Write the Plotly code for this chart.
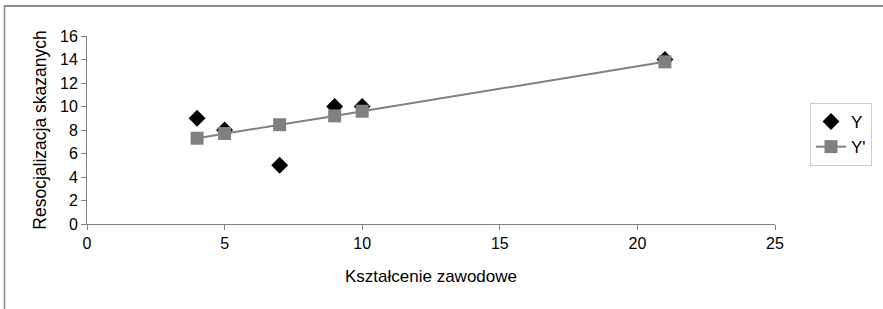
import plotly.graph_objects as go

x_vals = [4, 5, 7, 9, 10, 21]
y_obs = [9, 8, 5, 10, 10, 14]
y_fit = [7.3, 7.7, 8.45, 9.2, 9.6, 13.8]
x_ticks = [0, 5, 10, 15, 20, 25]
y_ticks = [0, 2, 4, 6, 8, 10, 12, 14, 16]

W, H = 883, 309
L, R, T, B = 87, 108, 36, 85
pw, ph = W - L - R, H - T - B
FONT = "Liberation Sans, Arial"

fig = go.Figure()
fig.add_trace(go.Scatter(x=x_vals, y=y_obs, mode="markers", name="Y",
                         marker=dict(symbol="diamond", size=13, color="#000000")))
fig.add_trace(go.Scatter(x=x_vals, y=y_fit, mode="lines+markers", name="Y'",
                         line=dict(color="#808080", width=2),
                         marker=dict(symbol="square", size=13, color="#808080")))

axis_common = dict(showgrid=False, zeroline=False, showline=True, linecolor="#808080",
                   linewidth=1, ticks="outside", ticklen=5, tickcolor="#808080",
                   automargin=False,
                   tickfont=dict(family=FONT, size=16, color="#000"))
fig.update_xaxes(range=[0, 25], tickvals=x_ticks, **axis_common,
                 title=dict(text="Kształcenie zawodowe", standoff=18,
                            font=dict(family=FONT, size=17, color="#000")))
fig.update_yaxes(range=[0, 16], tickvals=y_ticks, **axis_common,
                 title=dict(text="Resocjalizacja skazanych", standoff=8,
                            font=dict(family=FONT, size=17.5, color="#000")))

def px(xp):
    return (xp - L) / pw

def py(yp):
    return 1 - (yp - T) / ph

fig.add_shape(type="line", xref="paper", yref="paper", x0=px(4.5), x1=px(883), y0=py(6), y1=py(6),
              line=dict(color="#8c8c8c", width=2))
fig.add_shape(type="line", xref="paper", yref="paper", x0=px(4.5), x1=px(4.5), y0=py(5), y1=py(309),
              line=dict(color="#8c8c8c", width=1.5))

fig.update_layout(
    width=W, height=H, margin=dict(l=L, r=R, t=T, b=B, autoexpand=False),
    plot_bgcolor="white", paper_bgcolor="white",
    font=dict(family=FONT, size=16, color="#000"),
    legend=dict(x=px(810), y=py(103), xanchor="left", yanchor="top",
                bordercolor="#cccccc", borderwidth=1, bgcolor="white",
                font=dict(size=17), itemwidth=30, tracegroupgap=2),
    showlegend=True,
)
fig.write_html("out.html", config={"displayModeBar": False},
               post_script="document.body.style.margin='0';")
